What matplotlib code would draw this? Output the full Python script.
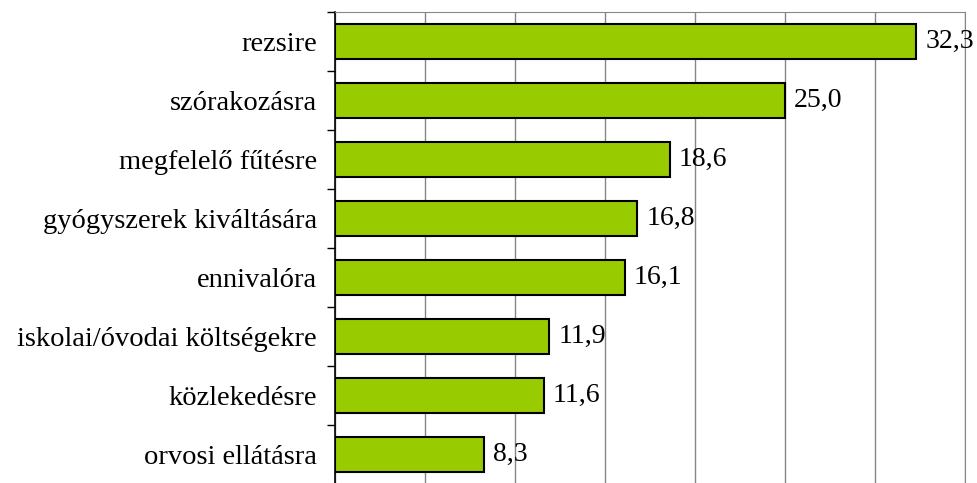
import numpy as np
import matplotlib
matplotlib.use("Agg")
import matplotlib.pyplot as plt

# adatok (felülről lefelé)
categories = ["rezsire", "szórakozásra", "megfelelő fűtésre", "gyógyszerek kiváltására",
              "ennivalóra", "iskolai/óvodai költségekre", "közlekedésre", "orvosi ellátásra"]
values = [32.3, 25.0, 18.6, 16.8, 16.1, 11.9, 11.6, 8.3]
value_labels = ["32,3", "25,0", "18,6", "16,8", "16,1", "11,9", "11,6", "8,3"]

plt.rcParams['font.family'] = ['Liberation Serif', 'DejaVu Serif']

fig = plt.figure(figsize=(9.77, 4.83), dpi=100)
ax = fig.add_axes([335 / 977, -1 / 483, 630 / 977, 472 / 483])

n = len(categories)
y = np.arange(n)
ax.barh(y, values, height=0.6, color='#99CC00', edgecolor='black', linewidth=1.5, zorder=3)

for yi, v, lab in zip(y, values, value_labels):
    ax.text(v + 0.5, yi, lab, va='center', ha='left', fontsize=20, zorder=4)

ax.set_xlim(0, 35)
ax.set_ylim(n - 0.5, -0.5)
ax.set_xticks(np.arange(0, 36, 5))
ax.tick_params(axis='x', length=0, labelbottom=False)
ax.grid(axis='x', color='#868686', linewidth=1, zorder=0)

# kategóriahatárok jelölése a bal tengelyen
ax.set_yticks(np.arange(-0.5, n, 1))
ax.set_yticklabels([])
ax.set_yticks(y, minor=True)
ax.set_yticklabels(categories, minor=True, fontsize=20.5)
ax.tick_params(axis='y', which='major', length=6, width=1, direction='out')
ax.tick_params(axis='y', which='minor', length=0, pad=13)

ax.spines['left'].set_color('black')
ax.spines['left'].set_linewidth(1.2)
for s in ['top', 'right']:
    ax.spines[s].set_color('#868686')
ax.spines['bottom'].set_visible(False)

fig.savefig("out.png", dpi=100)
